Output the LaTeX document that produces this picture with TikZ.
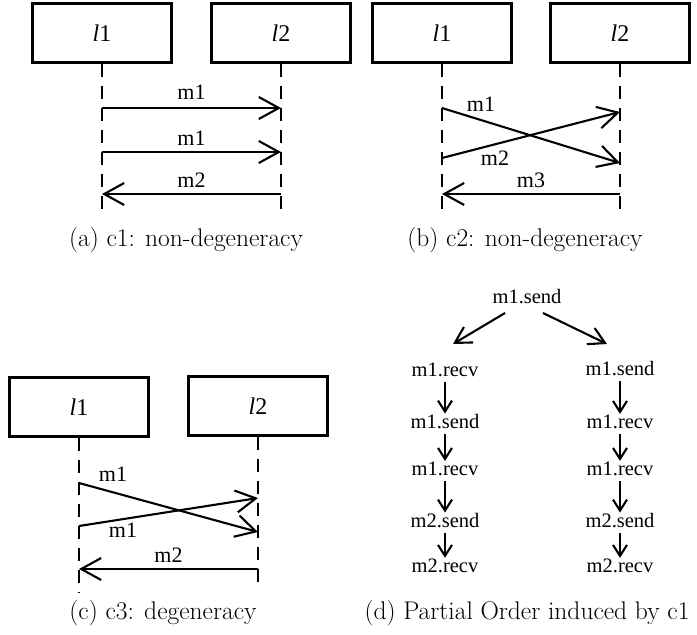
\documentclass[tikz,border=0pt]{standalone}
\usepackage{fontspec}
\newfontfamily\tms{Liberation Serif}
\usetikzlibrary{arrows.meta}
\begin{document}
\begin{tikzpicture}[x=1pt,y=-1pt,
  lbox/.style={draw,line width=2.2pt,minimum width=139pt,minimum height=59pt,inner sep=0pt,font=\tms\fontsize{24}{26}\selectfont},
  life/.style={line width=2.1pt,dash pattern=on 13pt off 9pt},
  msg/.style={line width=2.1pt,-{Straight Barb[length=20pt,width=22pt,line width=2.1pt]}},
  mlab/.style={font=\tms\fontsize{22}{24}\selectfont,inner sep=0pt},
  ev/.style={font=\tms\fontsize{20.5}{22}\selectfont,inner sep=0pt},
  ord/.style={line width=2.1pt,-{Straight Barb[length=11pt,width=14pt,line width=2.1pt]}},
  ordd/.style={line width=2.1pt,-{Straight Barb[length=16pt,width=18pt,line width=2.1pt]}},
  captxt/.style={font=\fontsize{25.5}{27}\selectfont,inner sep=0pt}]
\useasboundingbox (0,0) rectangle (697,635);
% ---------- (a)
\node[lbox] (a1) at (102,33) {\textit{l}1};
\node[lbox] (a2) at (281,33) {\textit{l}2};
\coordinate (a1e) at (102,217);
\coordinate (a2e) at (281,217);
\draw[life] (a1.south) -- (a1e);
\draw[life] (a2.south) -- (a2e);
\coordinate (a1m1) at (102,108); \coordinate (a2m1) at (281,108);
\coordinate (a1m2) at (102,152); \coordinate (a2m2) at (281,152);
\coordinate (a1m3) at (102,194); \coordinate (a2m3) at (281,194);
\draw[msg] (a1m1) -- (a2m1) node[mlab,midway,above=7pt] (la1) {m1};
\draw[msg] (a1m2) -- (a2m2) node[mlab,midway,above=5pt] (la2) {m1};
\draw[msg] (a2m3) -- (a1m3) node[mlab,midway,above=5pt] (la3) {m2};
\node[captxt] (capa) at (186,240) {(a) c1: non-degeneracy};
% ---------- (b)
\node[lbox] (b1) at (442,33) {\textit{l}1};
\node[lbox] (b2) at (620,33) {\textit{l}2};
\coordinate (b1e) at (442,217);
\coordinate (b2e) at (620,217);
\draw[life] (b1.south) -- (b1e);
\draw[life] (b2.south) -- (b2e);
\coordinate (b1m1) at (442,108); \coordinate (b2m1) at (620,163);
\coordinate (b1m2) at (442,158); \coordinate (b2m2) at (620,112);
\coordinate (b1m3) at (442,194); \coordinate (b2m3) at (620,194);
\draw[msg] (b1m1) -- (b2m1);
\draw[msg] (b1m2) -- (b2m2);
\draw[msg] (b2m3) -- (b1m3) node[mlab,midway,above=5pt] (lb3) {m3};
\node[mlab] (lb1) at (481,104) {m1};
\node[mlab] (lb2) at (495,158) {m2};
\node[captxt] (capb) at (525,240) {(b) c2: non-degeneracy};
% ---------- (c)
\node[lbox] (c1) at (79,407) {\textit{l}1};
\node[lbox] (c2) at (258,406) {\textit{l}2};
\coordinate (c1e) at (79,592);
\coordinate (c2e) at (258,590);
\draw[life] (c1.south) -- (c1e);
\draw[life] (c2.south) -- (c2e);
\coordinate (c1m1) at (79,483); \coordinate (c2m1) at (258,532);
\coordinate (c1m2) at (79,526); \coordinate (c2m2) at (258,498);
\coordinate (c1m3) at (79,569); \coordinate (c2m3) at (258,569);
\draw[msg] (c1m1) -- (c2m1);
\draw[msg] (c1m2) -- (c2m2);
\draw[msg] (c2m3) -- (c1m3) node[mlab,midway,above=5pt] (lc3) {m2};
\node[mlab] (lc1) at (113,474) {m1};
\node[mlab] (lc2) at (123,530) {m1};
\node[captxt] (capc) at (163,613) {(c) c3: degeneracy};
% ---------- (d)
\node[ev] (r) at (527,297) {m1.send};
\node[ev] (l1) at (445,370) {m1.recv};
\node[ev] (l2) at (445,422) {m1.send};
\node[ev] (l3) at (445,469) {m1.recv};
\node[ev] (l4) at (445,521) {m2.send};
\node[ev] (l5) at (445,566) {m2.recv};
\node[ev] (q1) at (620,369) {m1.send};
\node[ev] (q2) at (620,422) {m1.recv};
\node[ev] (q3) at (620,469) {m1.recv};
\node[ev] (q4) at (620,521) {m2.send};
\node[ev] (q5) at (620,566) {m2.recv};
\coordinate (rl) at (505,313); \coordinate (rle) at (453,344);
\coordinate (rr) at (543,313); \coordinate (rre) at (607,344);
\draw[ordd] (rl) -- (rle);
\draw[ordd] (rr) -- (rre);
\foreach \a/\b in {l1/l2,l2/l3,l3/l4,l4/l5,q1/q2,q2/q3,q3/q4,q4/q5}{
  \draw[ord] ([yshift=-5pt]\a.south) -- ([yshift=1pt]\b.north);}
\node[captxt] (capd) at (527,613) {(d) Partial Order induced by c1};
\end{tikzpicture}
\end{document}
